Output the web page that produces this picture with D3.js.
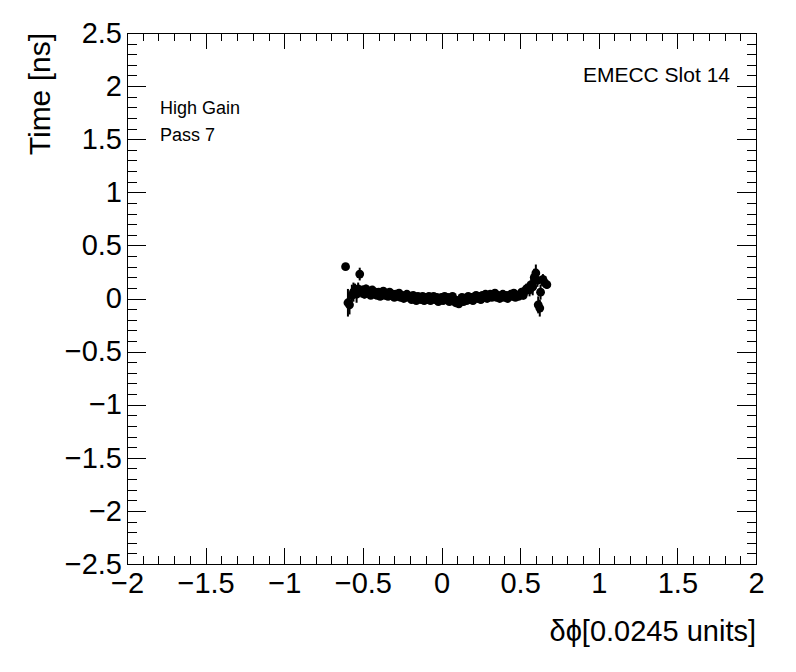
<!DOCTYPE html>
<html>
<head>
<meta charset="utf-8">
<script src="https://cdn.jsdelivr.net/npm/d3@7"></script>
<style>
  body { margin: 0; background: #fff; }
  svg { display: block; font-family: "Liberation Sans", Arial, sans-serif; }
  .axis path, .axis line { stroke: #000; stroke-width: 1; shape-rendering: crispEdges; }
  .axis text { font-size: 29px; fill: #000; }
</style>
</head>
<body>
<svg id="canvas" width="796" height="672"></svg>
<script>
// tick labels
const xTicks = [-2, -1.5, -1, -0.5, 0, 0.5, 1, 1.5, 2];
const xTickLabels = ["\u22122", "\u22121.5", "\u22121", "\u22120.5", "0", "0.5", "1", "1.5", "2"];
const yTicks = [-2.5, -2, -1.5, -1, -0.5, 0, 0.5, 1, 1.5, 2, 2.5];
const yTickLabels = ["\u22122.5", "\u22122", "\u22121.5", "\u22121", "\u22120.5", "0", "0.5", "1", "1.5", "2", "2.5"];

// data points: delta phi, time, error on time
const dphi = [
  -0.61, -0.595, -0.585, -0.57, -0.56, -0.55, -0.54, -0.53, -0.52, -0.51,
  -0.50, -0.49, -0.48, -0.47, -0.46, -0.45, -0.44, -0.43, -0.42, -0.41,
  -0.40, -0.39, -0.38, -0.37, -0.36, -0.35, -0.34, -0.33, -0.32, -0.31,
  -0.30, -0.29, -0.28, -0.27, -0.26, -0.25, -0.24, -0.23, -0.22, -0.21,
  -0.20, -0.19, -0.18, -0.17, -0.16, -0.15, -0.14, -0.13, -0.12, -0.11,
  -0.10, -0.09, -0.08, -0.07, -0.06, -0.05, -0.04, -0.03, -0.02, -0.01,
  0.00, 0.01, 0.02, 0.03, 0.04, 0.05, 0.06, 0.07, 0.08, 0.09,
  0.10, 0.11, 0.12, 0.13, 0.14, 0.15, 0.16, 0.17, 0.18, 0.19,
  0.20, 0.21, 0.22, 0.23, 0.24, 0.25, 0.26, 0.27, 0.28, 0.29,
  0.30, 0.31, 0.32, 0.33, 0.34, 0.35, 0.36, 0.37, 0.38, 0.39,
  0.40, 0.41, 0.42, 0.43, 0.44, 0.45, 0.46, 0.47, 0.48, 0.49,
  0.50, 0.51, 0.52, 0.53, 0.54, 0.55, 0.56, 0.57, 0.58, 0.59,
  0.60, 0.61, 0.615, 0.625, 0.63, 0.645, 0.655, 0.67
];
const time = [
  0.30, -0.04, -0.06, 0.03, 0.06, 0.08, 0.04, 0.09, 0.23, 0.06,
  0.08, 0.04, 0.09, 0.05, 0.07, 0.03, 0.08, 0.05, 0.06, 0.03,
  0.06, 0.02, 0.05, 0.07, 0.03, 0.05, 0.02, 0.06, 0.03, 0.04,
  0.01, 0.04, 0.02, 0.05, 0.01, 0.03, 0.00, 0.02, 0.04, 0.01,
  0.02, -0.01, 0.03, 0.00, -0.02, 0.02, 0.01, -0.01, 0.02, -0.02,
  0.01, -0.01, 0.02, -0.02, 0.00, 0.02, -0.01, 0.01, -0.03, 0.00,
  0.01, -0.02, 0.02, -0.01, 0.01, -0.03, 0.00, 0.02, -0.01, -0.04,
  -0.02, -0.05, -0.01, 0.01, -0.03, 0.00, -0.02, 0.02, -0.01, 0.01,
  -0.02, 0.01, 0.03, 0.00, 0.02, -0.01, 0.03, 0.01, 0.04, 0.00,
  0.02, 0.04, 0.01, 0.03, 0.05, 0.01, 0.03, 0.00, 0.02, 0.04,
  0.01, 0.03, 0.00, 0.02, 0.04, 0.02, 0.05, 0.01, 0.03, 0.02,
  0.04, 0.06, 0.03, 0.07, 0.09, 0.10, 0.08, 0.13, 0.11, 0.20,
  0.24, 0.17, -0.06, -0.09, 0.06, 0.18, 0.15, 0.13
];
const timeErr = [
  0.01, 0.13, 0.09, 0.10, 0.09, 0.06, 0.08, 0.06, 0.06, 0.05,
  0.04, 0.04, 0.04, 0.03, 0.03, 0.03, 0.03, 0.03, 0.03, 0.03,
  0.03, 0.03, 0.02, 0.02, 0.02, 0.02, 0.02, 0.02, 0.02, 0.02,
  0.02, 0.02, 0.02, 0.02, 0.02, 0.02, 0.02, 0.02, 0.02, 0.02,
  0.02, 0.02, 0.02, 0.02, 0.02, 0.02, 0.02, 0.02, 0.02, 0.02,
  0.02, 0.02, 0.02, 0.02, 0.02, 0.02, 0.02, 0.02, 0.02, 0.02,
  0.02, 0.02, 0.02, 0.02, 0.02, 0.02, 0.02, 0.02, 0.02, 0.02,
  0.02, 0.02, 0.02, 0.02, 0.02, 0.02, 0.02, 0.02, 0.02, 0.02,
  0.02, 0.02, 0.02, 0.02, 0.02, 0.02, 0.02, 0.02, 0.02, 0.02,
  0.02, 0.02, 0.02, 0.02, 0.02, 0.02, 0.02, 0.02, 0.02, 0.02,
  0.02, 0.02, 0.02, 0.02, 0.03, 0.03, 0.03, 0.03, 0.03, 0.03,
  0.04, 0.04, 0.04, 0.05, 0.05, 0.05, 0.06, 0.07, 0.08, 0.08,
  0.08, 0.06, 0.08, 0.08, 0.07, 0.05, 0.05, 0.04
];

const svg = d3.select("#canvas");
const padL = 127, padR = 756, padT = 33, padB = 564;

const x = d3.scaleLinear().domain([-2, 2]).range([padL, padR]);
const y = d3.scaleLinear().domain([-2.5, 2.5]).range([padB, padT]);

const xMinor = d3.range(-20, 21).map((d) => d / 10);
const yMinor = d3.range(-25, 26).map((d) => d / 10);
const xMajLen = 16, xMinLen = 8, yMajLen = 19, yMinLen = 9.5;

// minor ticks on all four sides
svg.append("g").attr("class", "axis").attr("transform", `translate(0,${padB})`)
  .call(d3.axisBottom(x).tickValues(xMinor).tickSize(-xMinLen).tickFormat(""))
  .call((g) => g.select(".domain").remove());
svg.append("g").attr("class", "axis").attr("transform", `translate(0,${padT})`)
  .call(d3.axisTop(x).tickValues(xMinor).tickSize(-xMinLen).tickFormat(""))
  .call((g) => g.select(".domain").remove());
svg.append("g").attr("class", "axis").attr("transform", `translate(${padL},0)`)
  .call(d3.axisLeft(y).tickValues(yMinor).tickSize(-yMinLen).tickFormat(""))
  .call((g) => g.select(".domain").remove());
svg.append("g").attr("class", "axis").attr("transform", `translate(${padR},0)`)
  .call(d3.axisRight(y).tickValues(yMinor).tickSize(-yMinLen).tickFormat(""))
  .call((g) => g.select(".domain").remove());

// major ticks with labels
svg.append("g").attr("class", "axis").attr("transform", `translate(0,${padB})`)
  .call(d3.axisBottom(x).tickValues(xTicks).tickSize(-xMajLen).tickPadding(8)
    .tickFormat((d, i) => xTickLabels[i]))
  .call((g) => g.select(".domain").remove());
svg.append("g").attr("class", "axis").attr("transform", `translate(0,${padT})`)
  .call(d3.axisTop(x).tickValues(xTicks).tickSize(-xMajLen).tickFormat(""))
  .call((g) => g.select(".domain").remove());
svg.append("g").attr("class", "axis").attr("transform", `translate(${padL},0)`)
  .call(d3.axisLeft(y).tickValues(yTicks).tickSize(-yMajLen).tickPadding(5)
    .tickFormat((d, i) => yTickLabels[i]))
  .call((g) => g.select(".domain").remove());
svg.append("g").attr("class", "axis").attr("transform", `translate(${padR},0)`)
  .call(d3.axisRight(y).tickValues(yTicks).tickSize(-yMajLen).tickFormat(""))
  .call((g) => g.select(".domain").remove());

// frame
svg.append("rect")
  .attr("x", padL + 0.5).attr("y", padT + 0.5)
  .attr("width", padR - padL).attr("height", padB - padT)
  .attr("fill", "none").attr("stroke", "#000").attr("stroke-width", 1);

// axis titles
svg.append("text")
  .attr("x", padR).attr("y", 641)
  .attr("text-anchor", "end")
  .attr("font-size", 29)
  .text("\u03b4\u03d5[0.0245 units]");
svg.append("text")
  .attr("transform", `translate(50,${padT}) rotate(-90)`)
  .attr("text-anchor", "end")
  .attr("font-size", 30)
  .text("Time [ns]");

// labels inside the frame
svg.append("text").attr("x", 160).attr("y", 114).attr("font-size", 18).text("High Gain");
svg.append("text").attr("x", 160).attr("y", 141).attr("font-size", 18).text("Pass 7");
svg.append("text").attr("x", 730).attr("y", 82).attr("text-anchor", "end")
  .attr("font-size", 21).text("EMECC Slot 14");

// error bars and markers
const pts = dphi.map((d, i) => ({ x: d, t: time[i], e: timeErr[i] }));
const plot = svg.append("g");
plot.selectAll("line.err")
  .data(pts)
  .enter()
  .append("line")
  .attr("class", "err")
  .attr("x1", (d) => x(d.x)).attr("x2", (d) => x(d.x))
  .attr("y1", (d) => y(d.t - d.e)).attr("y2", (d) => y(d.t + d.e))
  .attr("stroke", "#000").attr("stroke-width", 2);
plot.selectAll("circle")
  .data(pts)
  .enter()
  .append("circle")
  .attr("cx", (d) => x(d.x))
  .attr("cy", (d) => y(d.t))
  .attr("r", 4.4)
  .attr("fill", "#000");
</script>
</body>
</html>
